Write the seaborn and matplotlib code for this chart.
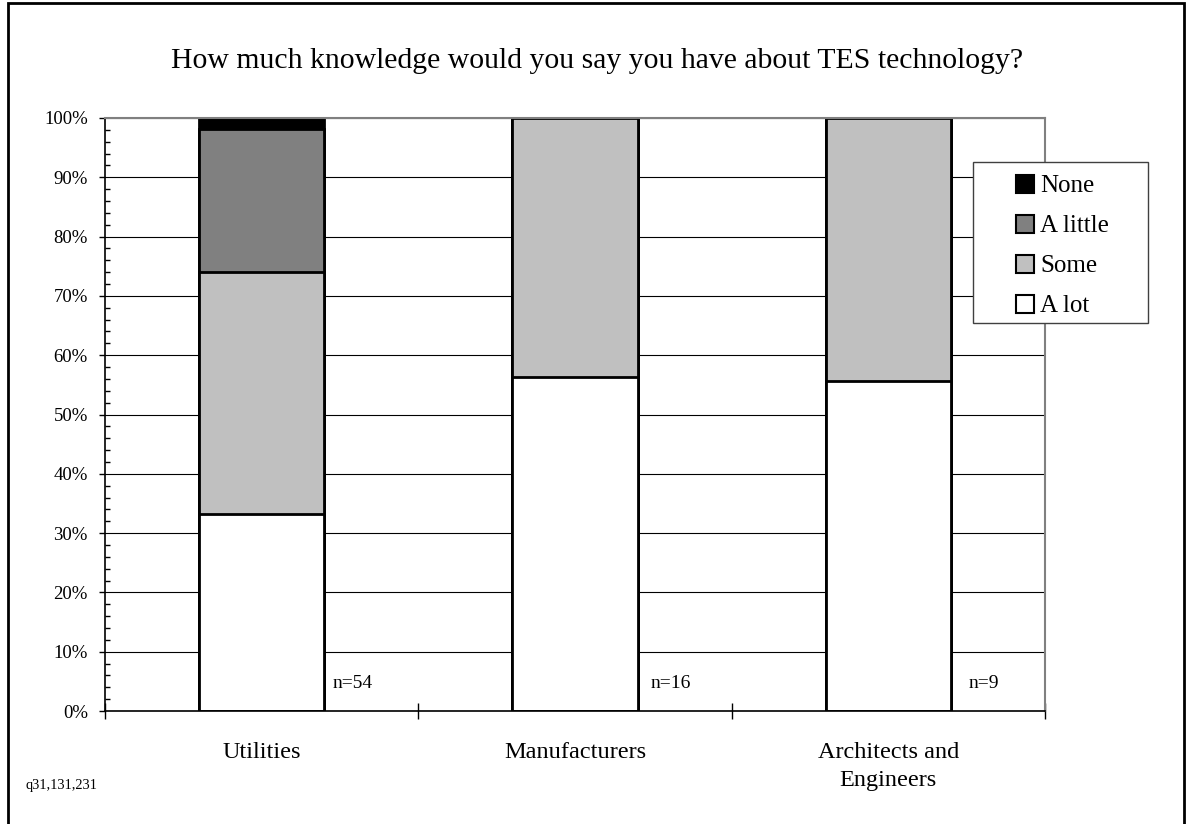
import numpy as np
import pandas as pd
import matplotlib
matplotlib.use("Agg")
import matplotlib.pyplot as plt
from matplotlib.patches import Patch, Rectangle
from matplotlib.ticker import MultipleLocator, FixedLocator
import seaborn as sns

# ---- data ----
categories = ["Utilities", "Manufacturers", "Architects and\nEngineers"]
series_names = ["A lot", "Some", "A little", "None"]
a_lot = [33.3, 56.3, 55.6]
some = [40.7, 43.7, 44.4]
a_little = [24.1, 0.0, 0.0]
none = [1.9, 0.0, 0.0]
n_labels = ["n=54", "n=16", "n=9"]
y_ticks = [0, 10, 20, 30, 40, 50, 60, 70, 80, 90, 100]
title = "How much knowledge would you say you have about TES technology?"
footnote = "q31,131,231"

colors = {"None": "#000000", "A little": "#808080", "Some": "#C0C0C0", "A lot": "#FFFFFF"}

plt.rcParams["font.family"] = ["Liberation Serif", "DejaVu Serif"]

W, H = 1187, 824
fig = plt.figure(figsize=(W / 100, H / 100), dpi=100)
ax = fig.add_axes([105 / W, 1 - 711 / H, (1045 - 105) / W, (711 - 118) / H])

stack = np.array([a_lot, some, a_little, none])
cum = np.cumsum(stack, axis=0)
df = pd.DataFrame({"cat": categories})
# draw from top of stack down so lower segments overlay
for idx in [3, 2, 1, 0]:
    name = series_names[idx]
    df["val"] = cum[idx]
    sns.barplot(data=df, x="cat", y="val", color=colors[name], saturation=1,
                width=0.4, edgecolor="black", linewidth=2, ax=ax, errorbar=None,
                zorder=2)

ax.set_xlim(-0.5, 2.5)
ax.set_ylim(0, 100)
ax.set_xlabel("")
ax.set_ylabel("")

# y axis
ax.set_yticks(y_ticks)
ax.set_yticklabels([f"{v}%" for v in y_ticks], fontsize=13.5)
ax.yaxis.set_minor_locator(MultipleLocator(2))
ax.tick_params(axis="y", which="major", direction="out", length=4.3, width=1, pad=8, color="black")
ax.tick_params(axis="y", which="minor", direction="in", length=3.6, width=1, color="black")
ax.grid(axis="y", which="major", color="black", linewidth=0.8, zorder=0)
ax.set_axisbelow(True)

# x axis
ax.set_xticks([0, 1, 2])
ax.set_xticklabels(categories, fontsize=17.5, linespacing=1.45)
ax.xaxis.set_minor_locator(FixedLocator([-0.5, 0.5, 1.5, 2.5]))
ax.tick_params(axis="x", which="major", length=0, pad=22)
ax.tick_params(axis="x", which="minor", direction="inout", length=11.5, width=1, color="black")

for side in ["left", "bottom"]:
    ax.spines[side].set_color("black")
    ax.spines[side].set_linewidth(1.2)
for side in ["top", "right"]:
    ax.spines[side].set_color("#808080")
    ax.spines[side].set_linewidth(1.5)

# n labels
n_offsets = [0.025, 0.04, 0.055]
for i, lab in enumerate(n_labels):
    ax.text(i + 0.2 + n_offsets[i], 4.7, lab, fontsize=14, ha="left", va="center")

# legend
handles = [Patch(facecolor=colors[nm], edgecolor="black", linewidth=1.5, label=nm)
           for nm in ["None", "A little", "Some", "A lot"]]
leg = fig.legend(handles=handles, loc="upper left", bbox_to_anchor=(1016 / W, 1 - 175 / H),
                 frameon=False, fontsize=18, handlelength=0.7, handleheight=0.7,
                 handletextpad=0.28, labelspacing=0.7, borderpad=0, borderaxespad=0)
fig.add_artist(Rectangle((973 / W, 1 - 323 / H), (1148 - 973) / W, (323 - 162) / H,
                         transform=fig.transFigure, facecolor="white", edgecolor="#404040",
                         linewidth=1.0, zorder=1))
leg.set_zorder(3)

# title & footnote
fig.text(597 / W, 1 - 61 / H, title, fontsize=21.4, ha="center", va="center")
fig.text(25 / W, 1 - 786 / H, footnote, fontsize=10.4, ha="left", va="center")

# outer border
fig.add_artist(Rectangle((8 / W, -0.05), (1184 - 8) / W, 1.05 - 3 / H,
                         transform=fig.transFigure, facecolor="none", edgecolor="black",
                         linewidth=2, clip_on=False))

fig.savefig("out.png", dpi=100)
